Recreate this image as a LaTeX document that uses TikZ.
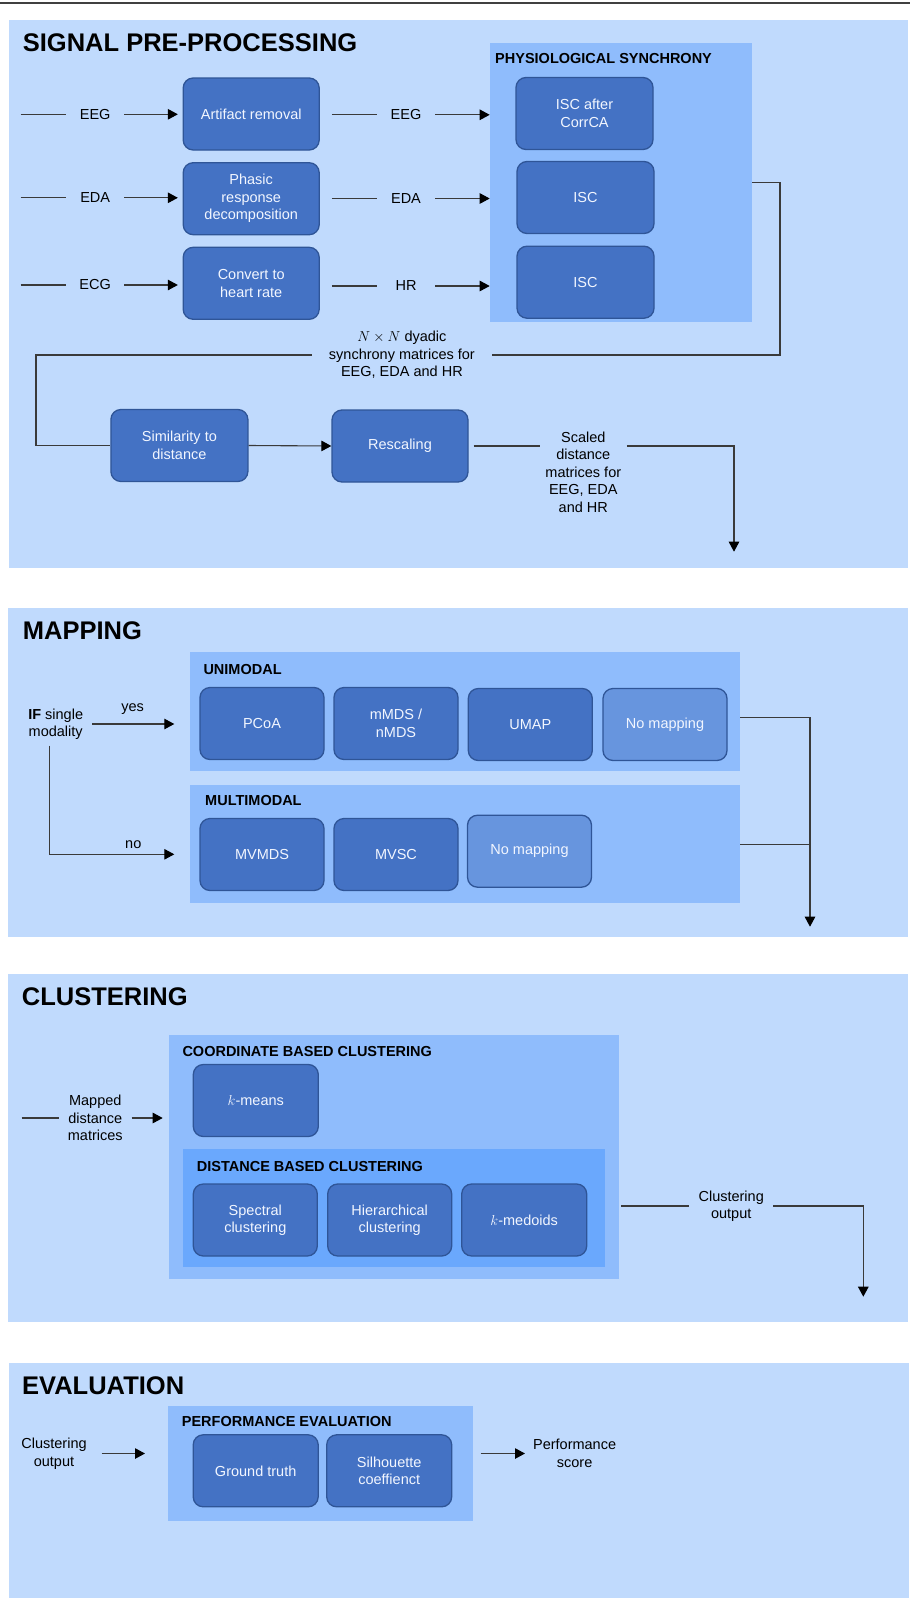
\documentclass[tikz,border=0pt]{standalone}
\usepackage{fontspec}
\setmainfont{Liberation Sans}
\usetikzlibrary{arrows.meta}
\definecolor{outerbg}{HTML}{C0DAFD}
\definecolor{innerbg}{HTML}{8FBCFC}
\definecolor{deepbg}{HTML}{6AA8FD}
\definecolor{boxfill}{HTML}{4472C4}
\definecolor{boxline}{HTML}{2F5597}
\definecolor{nomapfill}{HTML}{6795DE}
\definecolor{linecol}{HTML}{3A3A3A}
\definecolor{boxtext}{HTML}{F2F6FF}
\newcommand\myfs[2]{\fontsize{#1}{#2}\selectfont}
\begin{document}
\begin{tikzpicture}[x=1pt,y=-1pt,
  panel/.style={inner sep=0pt,outer sep=0pt,anchor=north west,draw=none},
  box/.style={draw=boxline,fill=boxfill,line width=1.3pt,rounded corners=10pt,
    text=boxtext,align=center,font=\myfs{14.5}{17.5},inner sep=0pt,
    minimum width=125pt,minimum height=72pt},
  nomap/.style={box,fill=nomapfill},
  lbl/.style={font=\myfs{14.5}{17.5},align=center,text=black,inner sep=0pt,outer sep=0pt},
  heading/.style={font=\bfseries\myfs{25.5}{30},anchor=base west,inner sep=0pt,text=black},
  subhead/.style={font=\bfseries\myfs{14.5}{17},anchor=base west,inner sep=0pt,text=black},
  ln/.style={draw=linecol,line width=1.1pt},
  arr/.style={draw=linecol,line width=1.1pt,-{Triangle[length=10pt,width=10.5pt,color=black]}}
]
\useasboundingbox (0,0) rectangle (910,1598);
\fill[white] (0,0) rectangle (910,1598);
\draw[draw=black!75,line width=1.8pt] (0,2.7) -- (910,2.7);

% ---------------- SIGNAL PRE-PROCESSING ----------------
\node[panel,fill=outerbg,minimum width=899pt,minimum height=548pt] (p1) at (9,20) {};
\node[heading] (h1) at (22.7,51.7) {SIGNAL PRE-PROCESSING};
\node[panel,fill=innerbg,minimum width=262.3pt,minimum height=278.4pt] (ps) at (489.7,43.3) {};
\node[subhead] (psh) at (495,63.3) {PHYSIOLOGICAL SYNCHRONY};

\node[box,minimum width=136pt] (ar) at (251.2,114) {Artifact removal};
\node[box,minimum width=136pt] (pr) at (251.2,198.7) {Phasic\\response\\decomposition};
\node[box,minimum width=136pt] (cv) at (251.2,283.3) {Convert to\\heart rate};
\node[box,minimum width=137pt] (isc1) at (584.5,113.5) {ISC after\\CorrCA};
\node[box,minimum width=137pt] (isc2) at (585.5,197.5) {ISC};
\node[box,minimum width=137pt] (isc3) at (585.5,282.2) {ISC};

\coordinate (in1) at (20.7,114.3);
\coordinate (in2) at (20.7,197.8);
\coordinate (in3) at (20.7,285);
\node[lbl,minimum width=58.3pt] (l1) at (95.2,114.3) {EEG};
\node[lbl,minimum width=58.3pt] (l2) at (95.2,197.8) {EDA};
\node[lbl,minimum width=58.3pt] (l3) at (95.2,285) {ECG};
\draw[ln] (in1) -- (l1.west);
\draw[ln] (in2) -- (l2.west);
\draw[ln] (in3) -- (l3.west);
\draw[arr,shorten >=4.7pt] (l1.east) -- (l1.east -| ar.west);
\draw[arr,shorten >=4.7pt] (l2.east) -- (l2.east -| pr.west);
\draw[arr,shorten >=4.7pt] (l3.east) -- (l3.east -| cv.west);

\node[lbl,minimum width=58pt] (r1) at (406,114.8) {EEG};
\node[lbl,minimum width=58pt] (r2) at (406,198.5) {EDA};
\node[lbl,minimum width=58pt] (r3) at (406,286) {HR};
\draw[ln,shorten <=12pt] (ar.east |- r1.west) -- (r1.west);
\draw[ln,shorten <=12pt] (pr.east |- r2.west) -- (r2.west);
\draw[ln,shorten <=12pt] (cv.east |- r3.west) -- (r3.west);
\draw[arr] (r1.east) -- (r1.east -| ps.west);
\draw[arr] (r2.east) -- (r2.east -| ps.west);
\draw[arr] (r3.east) -- (r3.east -| ps.west);

\node[lbl,minimum width=180.3pt] (nn) at (401.9,355) {$N\times N$ dyadic\\synchrony matrices for\\EEG, EDA and HR};
\coordinate (c1) at (780,355);
\coordinate (c2) at (36,355);
\draw[ln] (ps.east) -| (c1) -- (nn.east);
\node[box,minimum width=137pt] (sd) at (179.4,445.5) {Similarity to\\distance};
\node[box,minimum width=136pt] (rs) at (400,446) {Rescaling};
\draw[ln] (nn.west) -- (c2) |- (sd.west);
\draw[arr] (sd.east) -- (rs.west);
\node[lbl,minimum width=87pt] (sc) at (583.3,472) {Scaled\\distance\\matrices for\\EEG, EDA\\and HR};
\coordinate (out1) at (734,551.7);
\draw[ln,shorten <=5pt] (rs.east) -- (rs.east -| sc.west);
\draw[arr] (sc.east |- rs.east) -| (out1);

% ---------------- MAPPING ----------------
\node[panel,fill=outerbg,minimum width=900pt,minimum height=329.6pt] (p2) at (8.3,607.7) {};
\node[heading] (h2) at (22.7,639.3) {MAPPING};
\node[panel,fill=innerbg,minimum width=550pt,minimum height=118.4pt] (uni) at (190,652.3) {};
\node[subhead] (unih) at (203.3,674) {UNIMODAL};
\node[panel,fill=innerbg,minimum width=550pt,minimum height=118.3pt] (multi) at (190,785) {};
\node[subhead] (multih) at (205,805) {MULTIMODAL};

\node[box,minimum width=124pt] (pcoa) at (262,723.5) {PCoA};
\node[box,minimum width=124pt] (mmds) at (396,723.5) {mMDS /\\nMDS};
\node[box,minimum width=124pt] (umap) at (530.3,724.5) {UMAP};
\node[nomap,minimum width=124pt] (nomap1) at (665,724.5) {No mapping};
\node[box,minimum width=124pt] (mvmds) at (262,854.5) {MVMDS};
\node[box,minimum width=124pt] (mvsc) at (396,854.5) {MVSC};
\node[nomap,minimum width=124pt] (nomap2) at (529.5,851.2) {No mapping};

\node[lbl,minimum width=72.6pt] (ifn) at (55.7,724) {\textbf{IF} single\\modality};
\node[lbl] (yes) at (132.7,709.3) {yes};
\node[lbl] (no) at (133.3,844.3) {no};
\coordinate (noy) at (0,854.3);
\draw[arr,shorten >=15.7pt] (ifn.east) -- (ifn.east -| uni.west);
\draw[arr,shorten >=15.7pt] ([xshift=-6.4pt,yshift=-6pt]ifn.south) |- (multi.west |- noy);
\coordinate (mapout) at (810,926.7);
\draw[arr] ([yshift=-6.2pt]uni.east) -| (mapout);
\draw[ln] (multi.east) -- (multi.east -| mapout);

% ---------------- CLUSTERING ----------------
\node[panel,fill=outerbg,minimum width=900.6pt,minimum height=348.3pt] (p3) at (7.7,974) {};
\node[heading] (h3) at (21.7,1005) {CLUSTERING};
\node[panel,fill=innerbg,minimum width=449.7pt,minimum height=244.3pt] (coord) at (169,1034.7) {};
\node[subhead] (coordh) at (182.3,1056) {COORDINATE BASED CLUSTERING};
\node[box] (kmeans) at (255.8,1100.5) {$k$-means};
\node[panel,fill=deepbg,minimum width=421.7pt,minimum height=118.3pt] (dist) at (183.3,1149) {};
\node[subhead] (disth) at (196.7,1171) {DISTANCE BASED CLUSTERING};
\node[box,minimum width=124pt] (spec) at (255.3,1220) {Spectral\\clustering};
\node[box,minimum width=124pt] (hier) at (389.7,1220) {Hierarchical\\clustering};
\node[box] (kmed) at (524.2,1220) {$k$-medoids};

\coordinate (mdin) at (21.7,1118);
\node[lbl,minimum width=72.7pt] (mdl) at (95.3,1118) {Mapped\\distance\\matrices};
\draw[ln] (mdin) -- (mdl.west);
\draw[arr,shorten >=6.3pt] (mdl.east) -- (mdl.east -| coord.west);

\node[lbl,minimum width=84.3pt] (col) at (731.2,1206) {Clustering\\output};
\coordinate (clout) at (863.3,1296.7);
\draw[ln,shorten <=2.3pt] (coord.east |- col.west) -- (col.west);
\draw[arr] (col.east) -| (clout);

% ---------------- EVALUATION ----------------
\node[panel,fill=outerbg,minimum width=900pt,minimum height=234.7pt] (p4) at (8.7,1363.3) {};
\node[heading] (h4) at (22,1394.3) {EVALUATION};
\node[panel,fill=innerbg,minimum width=304.7pt,minimum height=114.7pt] (perf) at (168.3,1406) {};
\node[subhead] (perfh) at (181.7,1426) {PERFORMANCE EVALUATION};
\node[box] (gt) at (255.7,1470.8) {Ground truth};
\node[box] (sil) at (389.2,1470.8) {Silhouette\\coeffienct};

\node[lbl,minimum width=95.2pt] (co2) at (54,1453.5) {Clustering\\output};
\node[lbl,minimum width=99.2pt] (psc) at (574.6,1453.5) {Performance\\score};
\draw[arr,shorten >=23.3pt] (co2.east) -- (co2.east -| perf.west);
\draw[arr,shorten <=7.6pt] (perf.east |- psc.west) -- (psc.west);
\end{tikzpicture}
\end{document}
